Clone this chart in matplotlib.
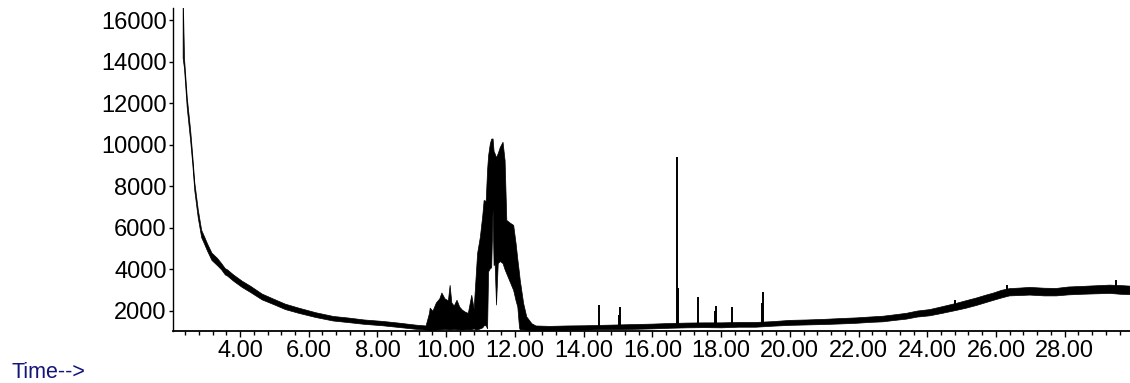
import numpy as np
import matplotlib
matplotlib.use("Agg")
import matplotlib.pyplot as plt
from matplotlib.ticker import MultipleLocator, FormatStrFormatter

# total ion chromatogram: retention time (min) with the low/high edge of the noisy trace
rt = [2.33, 2.37, 2.45, 2.55, 2.61, 2.67, 2.77, 2.87, 2.95, 3.04, 3.17, 3.33, 3.45, 3.56,
      3.62, 3.80, 4.05, 4.30, 4.63, 5.00, 5.31, 5.70, 6.19, 6.70, 7.16, 7.60, 8.14, 8.60,
      9.11, 9.40,
      9.50, 9.52, 9.60, 9.70, 9.80, 9.86, 9.95, 10.05, 10.10, 10.15, 10.22, 10.30, 10.38,
      10.46, 10.55, 10.63, 10.73, 10.80, 10.84, 10.90, 10.98, 11.05, 11.09, 11.15, 11.19,
      11.22, 11.27, 11.31, 11.35, 11.38, 11.41, 11.45, 11.50, 11.56, 11.64, 11.70, 11.75,
      11.85, 11.95, 12.02, 12.07, 12.12, 12.14, 12.24, 12.33, 12.48,
      12.60, 13.00, 13.50, 14.00, 14.50, 15.00, 15.50, 16.00, 16.50, 17.00, 17.50, 18.00,
      18.50, 19.00, 19.50, 20.00, 20.50, 21.00, 21.50, 21.93, 22.30, 22.70, 23.00, 23.38,
      23.70, 24.06, 24.40, 24.83, 25.10, 25.42, 25.70, 25.90, 26.15, 26.38, 26.70, 26.97,
      27.40, 27.74, 28.10, 28.52, 28.90, 29.30, 29.60, 29.90]
lo = [14200, 13700, 11800, 10200, 9100, 7800, 6500, 5550, 5250, 4900, 4450, 4200, 4000, 3750,
      3700, 3450, 3150, 2900, 2550, 2300, 2080, 1900, 1700, 1530, 1450, 1370, 1300, 1220,
      1130, 1090,
      1050, 1060, 1080, 1090, 1100, 1100, 1120, 1100, 1100, 1100, 1120, 1100, 1100,
      1090, 1100, 1100, 1100, 1150, 1100, 1100, 1150, 1200, 1300, 1300, 1150,
      3900, 4050, 4100, 6900, 4200, 4300, 2300, 4300, 4400, 4300, 4000, 3800,
      3400, 3000, 2500, 2200, 1200, 1100, 1100, 1080, 1050,
      1060, 1070, 1080, 1090, 1110, 1110, 1130, 1150, 1180, 1200, 1210, 1200,
      1230, 1230, 1280, 1320, 1340, 1360, 1390, 1420, 1460, 1490, 1550, 1620,
      1720, 1780, 1890, 2040, 2140, 2280, 2420, 2520, 2640, 2740, 2760, 2780,
      2740, 2740, 2790, 2820, 2840, 2860, 2820, 2800]
hi = [17500, 14200, 12300, 10700, 9500, 8200, 6900, 5900, 5600, 5250, 4800, 4550, 4300, 4050,
      4000, 3750, 3450, 3200, 2830, 2560, 2340, 2150, 1930, 1750, 1670, 1580, 1510, 1430,
      1330, 1290,
      1900, 2150, 2000, 2400, 2600, 2880, 2600, 2500, 3250, 2400, 2250, 2530, 2200,
      2050, 1950, 1900, 2770, 2100, 3200, 4790, 5570, 6600, 7340, 7300, 8800,
      9500, 10070, 10300, 10310, 9700, 9590, 9400, 9600, 9900, 10150, 9260, 6380,
      6250, 6140, 5260, 4500, 3810, 3500, 2370, 1730, 1400,
      1290, 1270, 1290, 1300, 1320, 1340, 1360, 1380, 1410, 1430, 1440, 1440,
      1460, 1460, 1500, 1560, 1580, 1610, 1650, 1680, 1720, 1760, 1820, 1900,
      2010, 2080, 2210, 2380, 2500, 2640, 2780, 2870, 3010, 3090, 3120, 3150,
      3110, 3100, 3170, 3200, 3230, 3260, 3240, 3210]

# isolated sharp peaks above the baseline
spike_rt = [14.44, 15.02, 15.05, 16.72, 17.34, 17.82, 17.85, 18.31, 19.18, 19.21,
            24.80, 26.33, 29.49]
spike_top = [2260, 1800, 2160, 9410, 2640, 2000, 2210, 2160, 2380, 2900,
             2530, 3250, 3490]
shoulder_rt = [16.74]
shoulder_top = [3090]

y_ticks = [2000, 4000, 6000, 8000, 10000, 12000, 14000, 16000]
x_major = [4, 6, 8, 10, 12, 14, 16, 18, 20, 22, 24, 26, 28]

plt.rcParams['font.family'] = ['Liberation Sans', 'DejaVu Sans']

fig = plt.figure(figsize=(11.30, 3.83), dpi=100)
ax = fig.add_axes([0.1531, 0.1345, 0.8469, 0.8446])

ax.fill_between(rt, lo, hi, color='black', lw=0.5, edgecolor='black')
base = np.interp(spike_rt, rt, lo)
ax.vlines(spike_rt, base, spike_top, color='black', lw=1.4)
ax.vlines(shoulder_rt, np.interp(shoulder_rt, rt, lo), shoulder_top, color='black', lw=1.4)

ax.set_xlim(2.05, 29.9)
ax.set_ylim(1000, 16600)

ax.xaxis.set_major_locator(plt.FixedLocator(x_major))
ax.xaxis.set_major_formatter(FormatStrFormatter('%.2f'))
ax.xaxis.set_minor_locator(MultipleLocator(0.4))
ax.set_yticks(y_ticks)
ax.set_yticklabels([str(v) for v in y_ticks])

for s in ['top', 'right']:
    ax.spines[s].set_visible(False)
ax.spines['left'].set_linewidth(1.0)
ax.spines['bottom'].set_linewidth(1.3)

ax.tick_params(axis='x', which='major', direction='out', length=4.5, width=1.0,
               pad=1.5, labelsize=17, colors='black')
ax.tick_params(axis='x', which='minor', direction='out', length=2.6, width=1.0)
ax.tick_params(axis='y', which='major', direction='out', length=3.0, width=1.0,
               pad=1.5, labelsize=17, colors='black')

fig.text(0.0106, 0.013, 'Time-->', color='#14147a', fontsize=15.5, va='baseline', ha='left')

fig.savefig('out.png', dpi=100)
